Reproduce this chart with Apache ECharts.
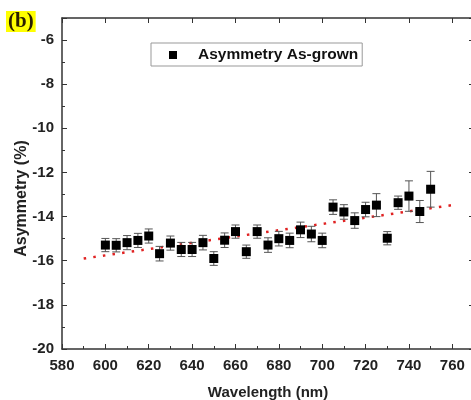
<!DOCTYPE html>
<html>
<head>
<meta charset="utf-8">
<script src="https://cdn.jsdelivr.net/npm/echarts@6/dist/echarts.min.js"></script>
<style>
	html, body { margin: 0; padding: 0; background: #fff; }
	#chart { width: 471px; height: 400px; }
</style>
</head>
<body>
<div id="chart"></div>
<script>
var wavelength = [600, 605, 610, 615, 620, 625, 630, 635, 640, 645, 650, 655, 660, 665, 670, 675,
	680, 685, 690, 695, 700, 705, 710, 715, 720, 725, 730, 735, 740, 745, 750];
var asymmetry = [-15.29, -15.3, -15.18, -15.08, -14.88, -15.68, -15.2, -15.49, -15.49, -15.18, -15.9,
	-15.07, -14.68, -15.59, -14.68, -15.29, -15.0, -15.08, -14.6, -14.79, -15.08, -13.57, -13.79,
	-14.18, -13.68, -13.48, -14.98, -13.37, -13.07, -13.77, -12.76];
var errors = [0.3, 0.3, 0.32, 0.32, 0.32, 0.33, 0.32, 0.32, 0.32, 0.33, 0.31, 0.33, 0.3, 0.3, 0.3,
	0.33, 0.33, 0.33, 0.35, 0.35, 0.33, 0.33, 0.33, 0.35, 0.33, 0.52, 0.3, 0.3, 0.69, 0.5, 0.81];
var trendX = [590, 762];
var trendY = [-15.9, -13.45];

var axisColor = '#333';
var labelFont = { fontFamily: 'Liberation Sans', fontWeight: 'bold', fontSize: 15, color: '#222' };

var points = wavelength.map(function (w, i) { return [w, asymmetry[i]]; });
var bars = wavelength.map(function (w, i) { return [w, asymmetry[i] - errors[i], asymmetry[i] + errors[i]]; });
var trend = trendX.map(function (x, i) { return [x, trendY[i]]; });

var myChart = echarts.init(document.getElementById('chart'));

var option = {
	animation: false,
	title: {
		text: '(b)',
		left: 6,
		top: 11,
		padding: [0, 2, 0, 2],
		backgroundColor: '#ffff00',
		textStyle: {
			fontFamily: 'Liberation Serif',
			fontWeight: 'bold',
			fontSize: 21,
			color: '#2a1e00'
		}
	},
	legend: {
		data: ['Asymmetry As-grown'],
		left: 151,
		top: 43,
		padding: [4, 4, 3, 18],
		borderColor: '#999',
		borderWidth: 1,
		icon: 'rect',
		itemWidth: 8,
		itemHeight: 8,
		textStyle: {
			fontFamily: 'Liberation Sans',
			fontWeight: 'bold',
			fontSize: 15.5,
			color: '#111',
			padding: [0, 0, 0, 16]
		}
	},
	grid: {
		left: 62,
		top: 18,
		right: -3,
		bottom: 51,
		outerBoundsMode: 'none',
		containLabel: false
	},
	xAxis: [
		{
			type: 'value',
			min: 580,
			max: 770,
			interval: 20,
			name: 'Wavelength (nm)',
			nameLocation: 'middle',
			nameGap: 36,
			nameTextStyle: labelFont,
			axisLine: { lineStyle: { color: axisColor, width: 1.5 } },
			axisTick: { inside: true, length: 5, lineStyle: { color: axisColor } },
			minorTick: { show: true, splitNumber: 2, length: 3, lineStyle: { color: axisColor } },
			axisLabel: Object.assign({ margin: 9, showMaxLabel: false }, labelFont),
			splitLine: { show: false }
		},
		{
			type: 'value',
			position: 'top',
			min: 580,
			max: 770,
			interval: 20,
			axisLine: { show: true, lineStyle: { color: axisColor, width: 1.5 } },
			axisTick: { show: true, inside: true, length: 5, lineStyle: { color: axisColor } },
			axisLabel: { show: false },
			splitLine: { show: false }
		}
	],
	yAxis: [
		{
			type: 'value',
			min: -20,
			max: -5,
			interval: 2,
			name: 'Asymmetry (%)',
			nameLocation: 'middle',
			nameGap: 32,
			nameMoveOverlap: false,
			nameTextStyle: Object.assign({ padding: [0, 30, 0, 0] }, labelFont, { fontSize: 16 }),
			axisLine: { lineStyle: { color: axisColor, width: 1.5 } },
			axisTick: { inside: true, length: 5, lineStyle: { color: axisColor } },
			minorTick: { show: true, splitNumber: 2, length: 3, lineStyle: { color: axisColor } },
			axisLabel: Object.assign({ margin: 8, showMaxLabel: false }, labelFont),
			splitLine: { show: false }
		},
		{
			type: 'value',
			position: 'right',
			min: -20,
			max: -5,
			interval: 2,
			axisLine: { show: true, lineStyle: { color: axisColor, width: 1.5 } },
			axisTick: { show: true, inside: true, length: 5, lineStyle: { color: axisColor } },
			minorTick: { show: true, splitNumber: 2, length: 3, lineStyle: { color: axisColor } },
			axisLabel: { show: false },
			splitLine: { show: false }
		}
	],
	series: [
		{
			name: 'trend',
			type: 'line',
			data: trend,
			showSymbol: false,
			symbol: 'none',
			silent: true,
			lineStyle: { color: '#e02222', width: 2.5, type: [2.5, 7.2] },
			z: 1
		},
		{
			name: 'error',
			type: 'custom',
			data: bars,
			renderItem: function (params, api) {
				var x = api.value(0);
				var top = api.coord([x, api.value(2)]);
				var bottom = api.coord([x, api.value(1)]);
				var w = 4;
				var style = { stroke: '#555', lineWidth: 1 };
				return {
					type: 'group',
					children: [
						{ type: 'line', shape: { x1: top[0], y1: top[1], x2: bottom[0], y2: bottom[1] }, style: style },
						{ type: 'line', shape: { x1: top[0] - w, y1: top[1], x2: top[0] + w, y2: top[1] }, style: style },
						{ type: 'line', shape: { x1: bottom[0] - w, y1: bottom[1], x2: bottom[0] + w, y2: bottom[1] }, style: style }
					]
				};
			},
			z: 2
		},
		{
			name: 'Asymmetry As-grown',
			type: 'scatter',
			data: points,
			symbol: 'rect',
			symbolSize: 9,
			itemStyle: { color: '#000', opacity: 1 },
			z: 3
		}
	]
};

myChart.setOption(option);
</script>
</body>
</html>
